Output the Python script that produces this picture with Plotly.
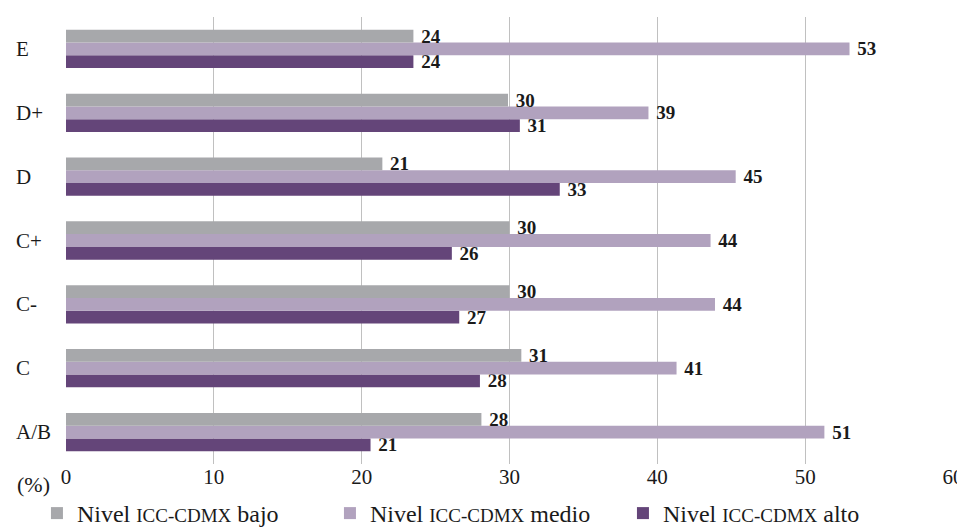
import plotly.graph_objects as go

categories = ["A/B", "C", "C-", "C+", "D", "D+", "E"]
bajo = [28.1, 30.8, 30.0, 30.0, 21.4, 29.9, 23.5]
medio = [51.3, 41.3, 43.9, 43.6, 45.3, 39.4, 53.0]
alto = [20.6, 28.0, 26.6, 26.1, 33.4, 30.7, 23.5]
x_ticks = [0, 10, 20, 30, 40, 50, 60]

sc = "<span style='font-size:19px'>ICC-CDMX</span>"
series = [
    ("Nivel " + sc + " bajo", bajo, "#A7A8AB"),
    ("Nivel " + sc + " medio", medio, "#B1A2BE"),
    ("Nivel " + sc + " alto", alto, "#644579"),
]

font_family = "Liberation Serif"

# plotly draws the first trace at the bottom of each group, so add them reversed
data = []
for name, vals, color in reversed(series):
    data.append(go.Bar(
        y=categories, x=vals, name=name, orientation="h",
        marker=dict(color=color, line=dict(width=0)),
        texttemplate=" %{x:.0f}", textposition="outside", constraintext="none",
        textfont=dict(family=font_family, size=19, color="#1a1a1a", weight="bold"),
        cliponaxis=False,
    ))

# category labels, left aligned like the original
cat_labels = [dict(text=c, x=0, xref="paper", xanchor="left", xshift=-52,
                   y=c, yref="y", showarrow=False, font=dict(size=21))
              for c in categories]

# the page body adds an 8px offset, margins below account for it
fig = go.Figure(data=data)
fig.update_layout(
    width=965, height=528,
    margin=dict(l=58, r=20, t=9, b=72, autoexpand=False),
    barmode="group", bargap=0.4, bargroupgap=0,
    plot_bgcolor="white", paper_bgcolor="white",
    font=dict(family=font_family, size=21, color="#1a1a1a"),
    legend=dict(orientation="h", xref="container", yref="container",
                x=0.030, y=0.0, xanchor="left", yanchor="bottom",
                traceorder="reversed", font=dict(size=24), itemwidth=30,
                entrywidth=248, entrywidthmode="pixels"),
    xaxis=dict(range=[0, 60], tickvals=x_ticks, showgrid=True, gridcolor="#C0C0C0",
               gridwidth=1, zeroline=False, showline=False, ticks="",
               tickfont=dict(family=font_family, size=21), ticklabelstandoff=-2),
    yaxis=dict(showgrid=False, ticks="", showline=False, showticklabels=False),
    annotations=cat_labels + [
        dict(text="(%)", x=0, xref="paper", xanchor="right", xshift=-14,
             y=0, yref="paper", yanchor="top", yshift=-6, showarrow=False,
             font=dict(size=22))],
)

fig.write_html("out.html")
